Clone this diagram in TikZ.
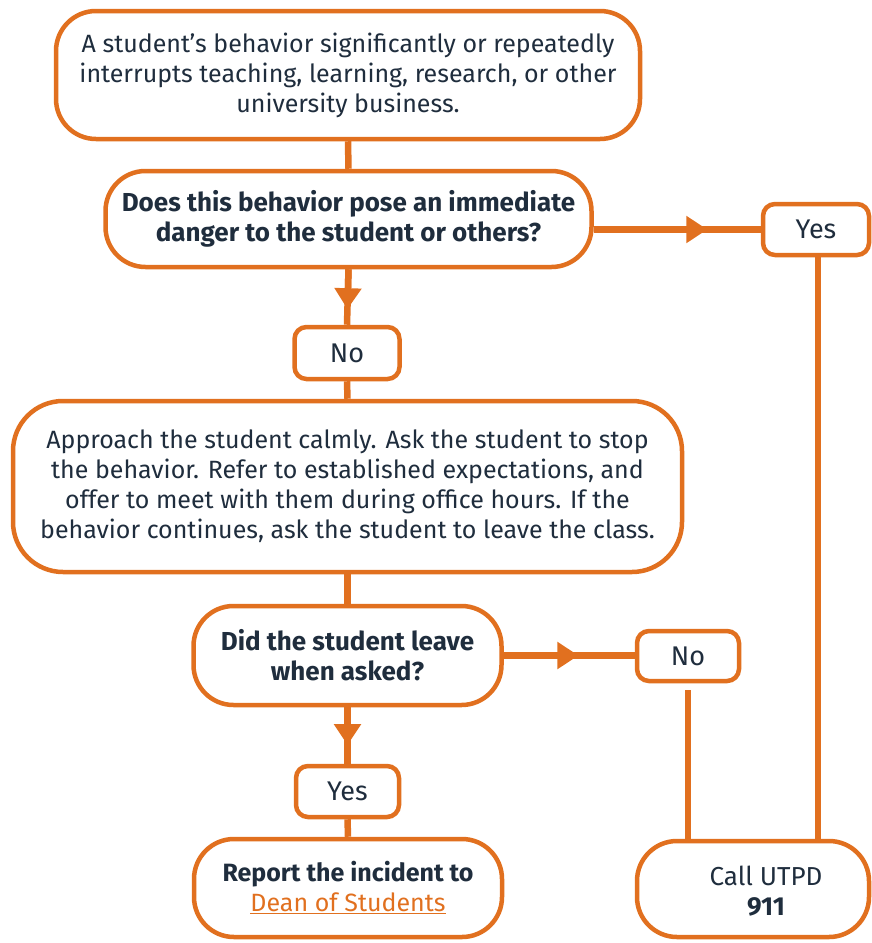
\documentclass[tikz,border=0pt]{standalone}
\usepackage{fontspec}
\setmainfont{Fira Sans}
\usetikzlibrary{arrows.meta,calc}
\definecolor{utorange}{HTML}{E1701F}
\definecolor{utnavy}{HTML}{1F2D3D}

\begin{document}
\begin{tikzpicture}[x=1pt, y=-1pt,
  bigbox/.style={draw=utorange, line width=4.5pt, fill=white, rounded corners=40pt, align=center, text=utnavy, inner sep=0pt, font=\fontsize{25}{30}\selectfont},
  askbox/.style={bigbox, font=\fontsize{26}{30}\selectfont\bfseries},
  tagbox/.style={draw=utorange, line width=4.5pt, fill=white, rounded corners=12pt, text=utnavy, inner sep=0pt, font=\fontsize{27}{30}\selectfont},
  conn/.style={draw=utorange, line width=6.5pt},
  tip/.style={conn, -{Triangle[length=21pt, width=26pt]}}]
\useasboundingbox (0,0) rectangle (872,943);
\node[bigbox, minimum width=584pt, minimum height=128pt] (start) at (348,75) {A student’s behavior significantly or repeatedly\\interrupts teaching, learning, research, or other\\university business.};
\node[askbox, minimum width=486pt, minimum height=96pt] (danger) at (348.5,219) {Does this behavior pose an immediate\\danger to the student or others?};
\node[tagbox, minimum width=106pt, minimum height=51pt] (yesA) at (816,229.5) {Yes};
\node[tagbox, minimum width=105pt, minimum height=52pt] (noA) at (347,353) {No};
\node[bigbox, minimum width=669pt, minimum height=171pt, rounded corners=50pt] (approach) at (347.5,486.5) {Approach the student calmly. Ask the student to stop\\the behavior. Refer to established expectations, and\\offer to meet with them during office hours. If the\\behavior continues, ask the student to leave the class.};
\node[askbox, minimum width=308pt, minimum height=99pt] (leave) at (347.5,655.5) {Did the student leave\\when asked?};
\node[tagbox, minimum width=102pt, minimum height=50pt] (noB) at (688,656) {No};
\node[tagbox, minimum width=103pt, minimum height=51pt] (yesB) at (347.5,791.5) {Yes};
\node[bigbox, minimum width=308pt, minimum height=98pt] (report) at (348,888) {\textbf{Report the incident to}\\\textcolor{utorange}{\underline{Dean of Students}}};
\node[bigbox, minimum width=232pt, minimum height=96pt] (call) at (753,889) {};
\node[align=center, text=utnavy, inner sep=0pt, font=\fontsize{26}{30}\selectfont] (calltext) at (766,891) {Call UTPD\\\textbf{911}};
% connectors
\draw[conn] (start.south) -- (danger.north);
\draw[conn] (yesA.west -| danger.east) -- (yesA.west);
\draw[tip] (yesA.west -| danger.east) -- ($(yesA.west -| danger.east)!0.68!(yesA.west)$);
\draw[conn] (danger.south) -- (noA.north);
\draw[tip] (danger.south) -- ($(danger.south)!0.72!(noA.north)$);
\draw[conn] (noA.south) -- (approach.north);
\draw[conn] (approach.south) -- (leave.north);
\draw[conn] (leave.east) -- (leave.east -| noB.west);
\draw[tip] (leave.east) -- ($(leave.east)!0.57!(leave.east -| noB.west)$);
\draw[conn] (leave.south) -- (yesB.north);
\draw[tip] (leave.south) -- ($(leave.south)!0.67!(yesB.north)$);
\draw[conn] (yesB.south) -- (report.north);
\draw[conn] ([xshift=2pt]yesA.south) -- ([xshift=2pt]yesA.south |- call.north);
\draw[conn, shorten <=7pt] (noB.south) -- (noB.south |- call.north);
\end{tikzpicture}
\end{document}
